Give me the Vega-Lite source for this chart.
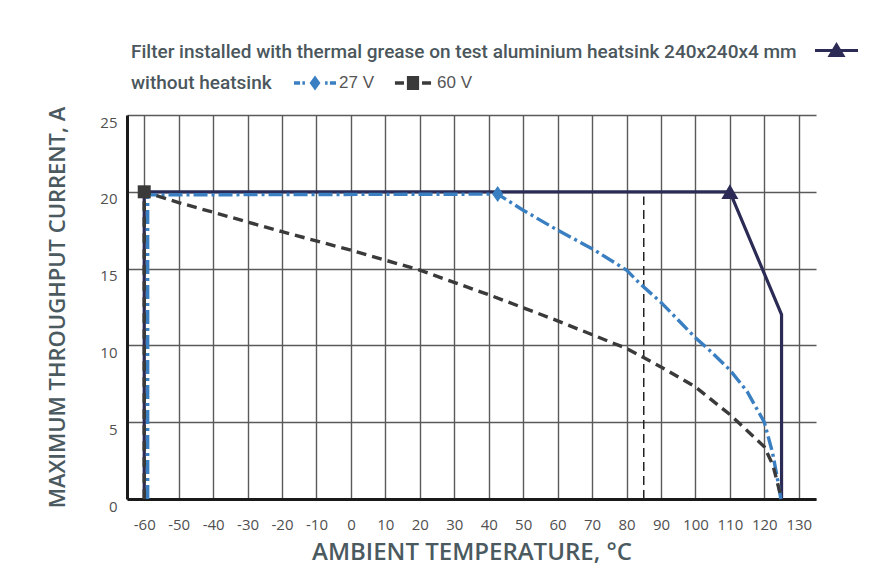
{
  "$schema": "https://vega.github.io/schema/vega-lite/v6.json",
  "width": 689,
  "height": 384,
  "autosize": {"type": "none"},
  "padding": {"left": 127, "top": 115, "right": 75, "bottom": 77},
  "background": "white",
  "datasets": {
    "curves": [
      {"series": "heatsink", "o": 1, "T": -60, "I": 0},
      {"series": "heatsink", "o": 2, "T": -60, "I": 20},
      {"series": "heatsink", "o": 3, "T": 110, "I": 20},
      {"series": "heatsink", "o": 4, "T": 125, "I": 12},
      {"series": "heatsink", "o": 5, "T": 125, "I": 0},
      {"series": "27 V", "o": 1, "T": -59, "I": 0},
      {"series": "27 V", "o": 2, "T": -59, "I": 19.8},
      {"series": "27 V", "o": 3, "T": 42.6, "I": 19.85},
      {"series": "27 V", "o": 4, "T": 50, "I": 18.8},
      {"series": "27 V", "o": 5, "T": 60, "I": 17.5},
      {"series": "27 V", "o": 6, "T": 70, "I": 16.3},
      {"series": "27 V", "o": 7, "T": 80, "I": 14.9},
      {"series": "27 V", "o": 8, "T": 84, "I": 14.0},
      {"series": "27 V", "o": 9, "T": 90, "I": 12.8},
      {"series": "27 V", "o": 10, "T": 100, "I": 10.5},
      {"series": "27 V", "o": 11, "T": 104, "I": 9.7},
      {"series": "27 V", "o": 12, "T": 110, "I": 8.4},
      {"series": "27 V", "o": 13, "T": 115, "I": 7.0},
      {"series": "27 V", "o": 14, "T": 120, "I": 5.0},
      {"series": "27 V", "o": 15, "T": 122.4, "I": 3.0},
      {"series": "27 V", "o": 16, "T": 123.7, "I": 1.45},
      {"series": "27 V", "o": 17, "T": 124.8, "I": 0},
      {"series": "60 V", "o": 1, "T": -60, "I": 0},
      {"series": "60 V", "o": 2, "T": -60, "I": 20},
      {"series": "60 V", "o": 3, "T": -50, "I": 19.3},
      {"series": "60 V", "o": 4, "T": -20, "I": 17.4},
      {"series": "60 V", "o": 5, "T": 0, "I": 16.2},
      {"series": "60 V", "o": 6, "T": 20, "I": 14.9},
      {"series": "60 V", "o": 7, "T": 40, "I": 13.3},
      {"series": "60 V", "o": 8, "T": 60, "I": 11.6},
      {"series": "60 V", "o": 9, "T": 80, "I": 9.8},
      {"series": "60 V", "o": 10, "T": 90, "I": 8.6},
      {"series": "60 V", "o": 11, "T": 100, "I": 7.3},
      {"series": "60 V", "o": 12, "T": 110, "I": 5.5},
      {"series": "60 V", "o": 13, "T": 114.8, "I": 4.5},
      {"series": "60 V", "o": 14, "T": 120, "I": 3.4},
      {"series": "60 V", "o": 15, "T": 122.5, "I": 2.2},
      {"series": "60 V", "o": 16, "T": 125, "I": 0}
    ],
    "markers": [
      {"series": "heatsink", "T": 110, "I": 20},
      {"series": "27 V", "T": 42.6, "I": 19.85},
      {"series": "60 V", "T": -60, "I": 20}
    ],
    "ref": [
      {"T": 85, "I": 0, "I2": 19.7}
    ]
  },
  "encoding": {
    "x": {
      "field": "T", "type": "quantitative",
      "scale": {"domain": [-65, 135], "nice": false, "zero": false},
      "axis": {
        "title": "AMBIENT TEMPERATURE, °C",
        "values": [-60, -50, -40, -30, -20, -10, 0, 10, 20, 30, 40, 50, 60, 70, 80, 90, 100, 110, 120, 130],
        "labelExpr": "'' + datum.value",
        "grid": true, "gridColor": "#5a5a5a", "gridWidth": 1.4,
        "domain": true, "domainColor": "#1a1a1a", "domainWidth": 3,
        "ticks": false, "tickSize": 0,
        "labelPadding": 18, "labelFont": "Open Sans", "labelFontSize": 15, "labelColor": "#505050",
        "labelFlush": false, "labelOverlap": false,
        "titleFont": "Open Sans", "titleFontSize": 24, "titleFontWeight": 600, "titleColor": "#4b5a5f",
        "titlePadding": 8
      }
    },
    "y": {
      "field": "I", "type": "quantitative",
      "scale": {"domain": [0, 25], "nice": false},
      "axis": {
        "title": "MAXIMUM THROUGHPUT CURRENT, A",
        "values": [0, 5, 10, 15, 20, 25],
        "grid": true, "gridColor": "#5a5a5a", "gridWidth": 1.4,
        "domain": true, "domainColor": "#1a1a1a", "domainWidth": 3,
        "ticks": false, "tickSize": 0,
        "labelOffset": 7, "labelPadding": 10,
        "labelFont": "Open Sans", "labelFontSize": 15, "labelColor": "#505050",
        "labelFlush": false, "labelOverlap": false,
        "titleFont": "Open Sans", "titleFontSize": 22, "titleFontWeight": 600, "titleColor": "#4b5a5f",
        "titlePadding": 30
      }
    }
  },
  "layer": [
    {
      "data": {"name": "ref"},
      "mark": {"type": "rule", "strokeDash": [9, 5], "strokeWidth": 1.5, "color": "#222222"},
      "encoding": {"y2": {"field": "I2"}}
    },
    {
      "data": {"name": "curves"},
      "transform": [{"filter": "datum.series === 'heatsink'"}],
      "mark": {"type": "line", "strokeWidth": 3.2},
      "encoding": {
        "order": {"field": "o", "type": "quantitative"},
        "stroke": {
          "field": "series", "type": "nominal",
          "scale": {"domain": ["heatsink"], "range": ["#2b2b55"]},
          "legend": {
            "orient": "none", "legendX": 4, "legendY": -86, "direction": "horizontal",
            "title": "Filter installed with thermal grease on test aluminium heatsink 240x240x4 mm",
            "titleOrient": "left", "titleAnchor": "middle", "titleBaseline": "top",
            "titleFont": "Roboto", "titleFontSize": 19, "titleFontWeight": 500, "titleColor": "#4b575c",
            "titleLimit": 900,
            "titlePadding": 18, "padding": 0,
            "labelExpr": "''", "labelOffset": 0,
            "symbolSize": 1849,
            "encode": {
              "symbols": {
                "update": {
                  "shape": {"value": "M-1,-0.07H1V0.07H-1Z M0,-0.4L0.42,0.3L-0.42,0.3Z"},
                  "fill": {"value": "#2b2b55"},
                  "stroke": {"value": "transparent"},
                  "strokeWidth": {"value": 0}
                }
              }
            }
          }
        }
      }
    },
    {
      "data": {"name": "curves"},
      "transform": [{"filter": "datum.series !== 'heatsink'"}],
      "mark": {"type": "line", "strokeWidth": 3.4},
      "encoding": {
        "order": {"field": "o", "type": "quantitative"},
        "color": {
          "field": "series", "type": "nominal",
          "scale": {"domain": ["27 V", "60 V"], "range": ["#3a7fc1", "#3a3a3a"]},
          "legend": {
            "orient": "none", "legendX": 4, "legendY": -53, "direction": "horizontal",
            "title": "without heatsink",
            "titleOrient": "left", "titleAnchor": "middle", "titleBaseline": "top",
            "titleFont": "Roboto", "titleFontSize": 19, "titleFontWeight": 500, "titleColor": "#4b575c",
            "titleLimit": 400,
            "titlePadding": 22, "padding": 0,
            "labelFont": "Liberation Sans", "labelFontSize": 17, "labelColor": "#555555", "labelOffset": 3,
            "symbolSize": 1764, "columnPadding": 18,
            "encode": {
              "title": {"update": {"dy": {"value": -3}}},
              "symbols": {
                "update": {
                  "shape": {"signal": "datum.value === '27 V' ? 'M-1,-0.08H-0.71V0.08H-1Z M-0.6,-0.08H-0.48V0.08H-0.6Z M-0.26,0L0,-0.36L0.26,0L0,0.36Z M0.48,-0.08H0.6V0.08H0.48Z M0.71,-0.08H1V0.08H0.71Z' : 'M-0.86,-0.08H-0.43V0.08H-0.86Z M-0.29,-0.33H0.29V0.33H-0.29Z M0.43,-0.08H0.86V0.08H0.43Z'"},
                  "fill": {"signal": "datum.value === '27 V' ? '#3a7fc1' : '#3a3a3a'"},
                  "stroke": {"value": "transparent"},
                  "strokeWidth": {"value": 0}
                }
              }
            }
          }
        },
        "strokeDash": {
          "field": "series", "type": "nominal",
          "scale": {"domain": ["27 V", "60 V"], "range": [[14, 4, 3, 4], [10, 6]]},
          "legend": {
            "orient": "none", "legendX": 4, "legendY": -53, "direction": "horizontal",
            "title": "without heatsink"
          }
        }
      }
    },
    {
      "data": {"name": "markers"},
      "transform": [{"filter": "datum.series === 'heatsink'"}],
      "mark": {"type": "point", "filled": true, "opacity": 1, "color": "#2b2b55", "size": 289, "shape": "M0,-0.9L1,0.85L-1,0.85Z"}
    },
    {
      "data": {"name": "markers"},
      "transform": [{"filter": "datum.series === '27 V'"}],
      "mark": {"type": "point", "filled": true, "opacity": 1, "color": "#3a7fc1", "size": 256, "shape": "M0,-1L0.7,0L0,1L-0.7,0Z"}
    },
    {
      "data": {"name": "markers"},
      "transform": [{"filter": "datum.series === '60 V'"}],
      "mark": {"type": "point", "filled": true, "opacity": 1, "color": "#3a3a3a", "size": 169, "shape": "square"}
    }
  ],
  "config": {
    "view": {"stroke": null}
  }
}
